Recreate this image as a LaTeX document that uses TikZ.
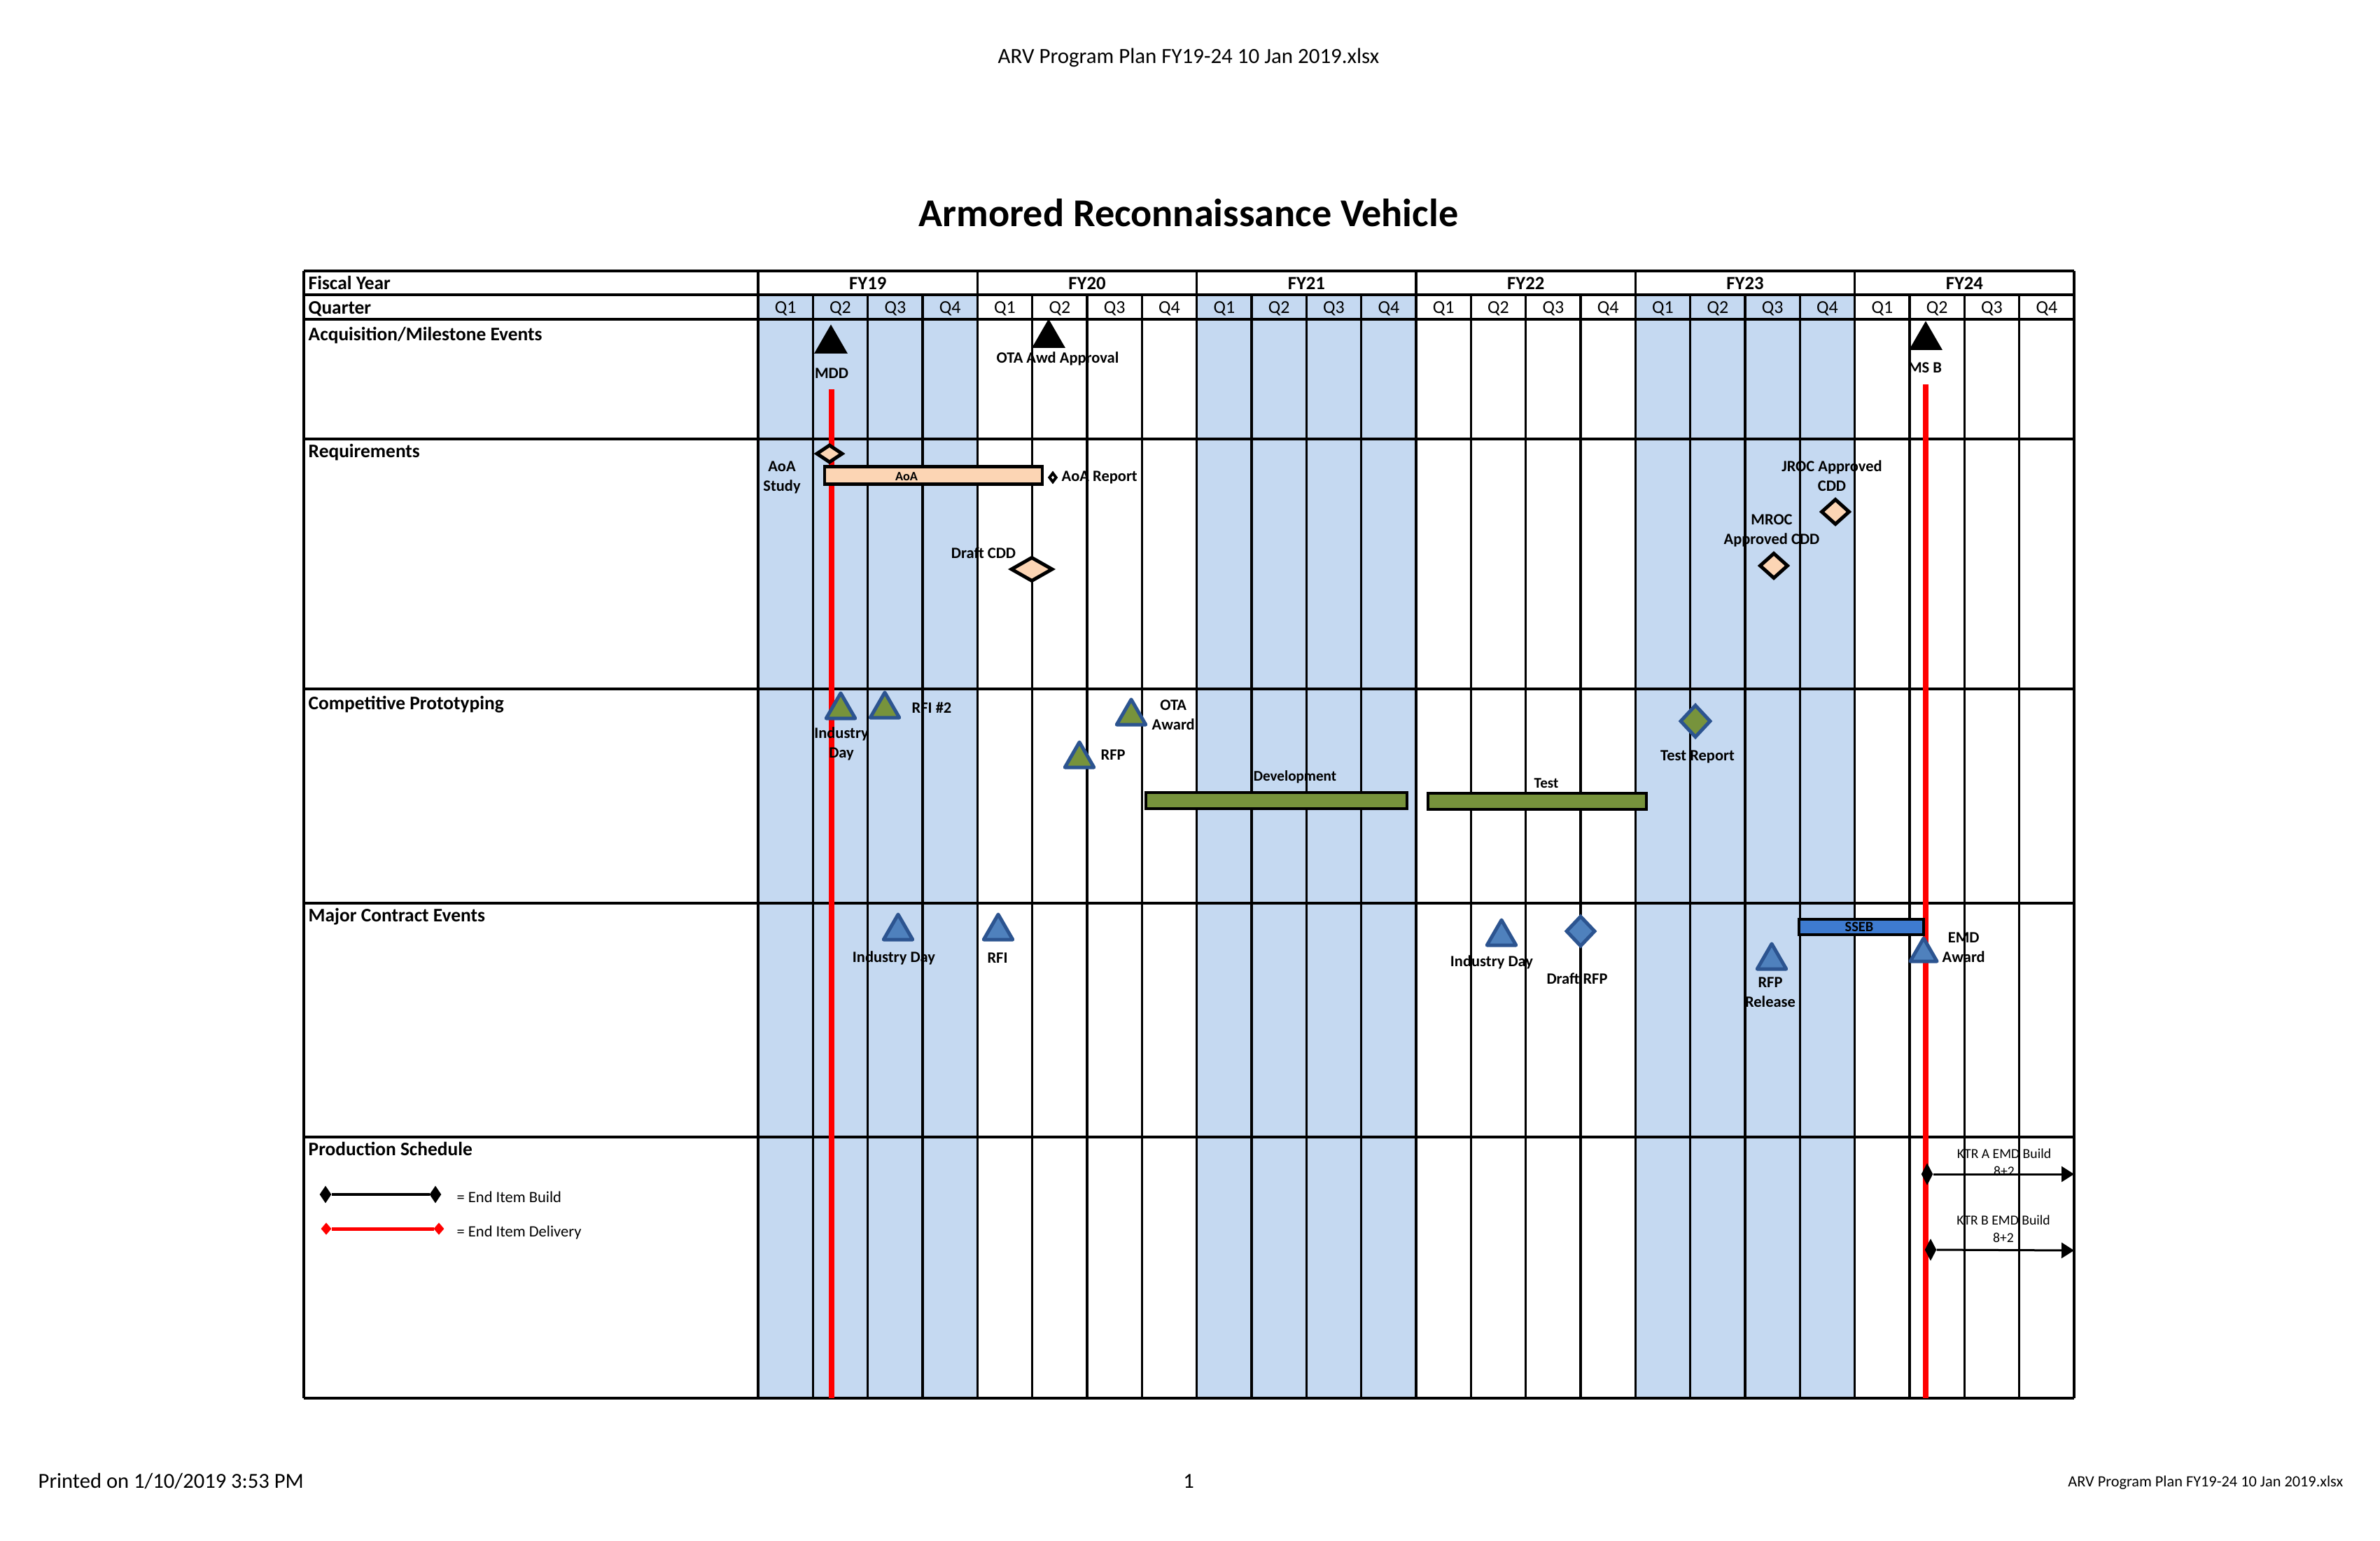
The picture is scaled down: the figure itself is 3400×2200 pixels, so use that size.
\documentclass[tikz,border=0pt]{standalone}
\usepackage{fontspec}
\setmainfont{Carlito}
\usetikzlibrary{shapes.geometric, arrows.meta}
\definecolor{qshade}{HTML}{C5D9F1}
\definecolor{peach}{HTML}{FCD5B4}
\definecolor{olive}{HTML}{77933C}
\definecolor{navy}{HTML}{2C5490}
\definecolor{steel}{HTML}{4F81BD}
\definecolor{ssebblue}{HTML}{3E7BD0}

\begin{document}
\begin{tikzpicture}[x=0.1mm, y=-0.1mm, >=Stealth,
  grid/.style={line width=0.35mm},
  rowhead/.style={anchor=base west, inner sep=0, font=\bfseries\fontsize{7.8}{9}\selectfont},
  yearhead/.style={anchor=base, inner sep=0, font=\bfseries\fontsize{7.6}{9}\selectfont},
  qhead/.style={anchor=base, inner sep=0, font=\fontsize{7.4}{8}\selectfont},
  note/.style={inner sep=0, align=center, font=\bfseries\fontsize{6.4}{8}\selectfont},
  tiny/.style={inner sep=0, align=center, font=\bfseries\fontsize{5.4}{7}\selectfont},
  milestone/.style={regular polygon, regular polygon sides=3, minimum size=5.5mm, inner sep=0, fill=#1},
  milestone/.default=black,
  gtri/.style={milestone=olive, minimum size=4.8mm, draw=navy, line width=0.5mm, line join=round},
  btri/.style={milestone=steel, minimum size=4.8mm, draw=navy, line width=0.5mm, line join=round},
  gem/.style={diamond, inner sep=0, draw=black, line width=0.5mm, fill=#1},
  gem/.default=peach,
  bar/.style={rectangle, inner sep=0, draw=black, line width=0.45mm, fill=#1},
  redline/.style={red, line width=0.8mm}]
  \useasboundingbox (0,0) rectangle (3400,2200);

  % page header, title, footer
  \node[font=\fontsize{8.8}{10}\selectfont] (fname) at (1698,82) {ARV Program Plan FY19-24 10 Jan 2019.xlsx};
  \node[font=\bfseries\fontsize{16}{19}\selectfont] (title) at (1698,304) {Armored Reconnaissance Vehicle};
  \node[anchor=west, inner sep=0, font=\fontsize{8.7}{10}\selectfont] (printed) at (54,2116) {Printed on 1/10/2019 3:53 PM};
  \node[font=\fontsize{8.7}{10}\selectfont] (pageno) at (1698,2116) {1};
  \node[anchor=east, inner sep=0, font=\fontsize{6.35}{7}\selectfont] (fname2) at (3348,2118) {ARV Program Plan FY19-24 10 Jan 2019.xlsx};

  % shaded fiscal years
  \foreach \k in {0,2,4}
    \fill[qshade] ({1083+\k*313.33},421) rectangle ++(313.33,1576);

  % grid
  \foreach \y in {387,421,456,627,984,1290,1624,1997}
    \draw[grid] (434,\y) -- (2963,\y);
  \draw[grid] (434,387) -- (434,1997);
  \foreach \k in {0,...,24}
    \draw[grid] ({1083+78.333*\k},421) -- ({1083+78.333*\k},1997);
  \foreach \k in {0,...,6}
    \draw[grid] ({1083+313.33*\k},387) -- ({1083+313.33*\k},421);

  % headings
  \node[rowhead] (hfy) at (440,413) {Fiscal Year};
  \node[rowhead] (hq) at (440,448) {Quarter};
  \node[rowhead] (hacq) at (440,486) {Acquisition/Milestone Events};
  \node[rowhead] (hreq) at (440,653) {Requirements};
  \node[rowhead] (hcp) at (440,1013) {Competitive Prototyping};
  \node[rowhead] (hmce) at (440,1316) {Major Contract Events};
  \node[rowhead] (hps) at (440,1650) {Production Schedule};
  \foreach \yr [count=\i from 0] in {19,...,24}
    \node[yearhead] (fy\yr) at ({1239.7+313.33*\i},413) {FY\yr};
  \foreach \k in {0,...,23} {
    \pgfmathtruncatemacro\q{mod(\k,4)+1}
    \node[qhead] (q\k) at ({1122.2+78.333*\k},447) {Q\q};
  }

  % red milestone lines
  \coordinate (mddtop) at (1188,556);
  \coordinate (mddbot) at (1188,1997);
  \coordinate (msbtop) at (2751,549);
  \coordinate (msbbot) at (2751,1997);
  \draw[redline] (mddtop) -- (mddbot);
  \draw[redline] (msbtop) -- (msbbot);

  % acquisition / milestone events
  \node[milestone] (mdd) at (1187,491) {};
  \node[note] (mddlbl) at (1188,533) {MDD};
  \node[milestone] (otaawd) at (1498,483) {};
  \node[note] (otaawdlbl) at (1511,512) {OTA Awd Approval};
  \node[milestone] (msb) at (2751,486) {};
  \node[note] (msblbl) at (2750,525) {MS B};

  % requirements
  \node[gem, minimum width=3.8mm, minimum height=2.6mm] (aoastart) at (1185,648) {};
  \node[bar=peach, minimum width=31.1mm, minimum height=2.5mm] (aoa) at (1333.5,679) {};
  \node[tiny, font=\bfseries\fontsize{5.2}{7}\selectfont] (aoalbl) at (1295,681) {AoA};
  \node[note] (aoastudy) at (1117,682) {AoA\\Study};
  \node[gem=white, line width=0.4mm, minimum width=1.1mm, minimum height=1.4mm] (aoarep) at (1504,682) {};
  \node[note, anchor=west] (aoareplbl) at (1516,682) {AoA Report};
  \node[gem, minimum width=6mm, minimum height=3.5mm] (draftcdd) at (1474,813) {};
  \node[note] (draftcddlbl) at (1405,790) {Draft CDD};
  \node[gem, minimum width=4.1mm, minimum height=3.7mm] (jroc) at (2622,731) {};
  \node[note] (jroclbl) at (2617,680) {JROC Approved\\CDD};
  \node[gem, minimum width=4.1mm, minimum height=3.7mm] (mroc) at (2534,808) {};
  \node[note] (mroclbl) at (2531,758) {MROC\\Approved CDD};

  % competitive prototyping
  \node[gtri] (cpday) at (1201,1014) {};
  \node[note] (cpdaylbl) at (1202,1062) {Industry\\Day};
  \node[gtri] (rfi2) at (1264,1013) {};
  \node[note, anchor=west] (rfi2lbl) at (1302,1011) {RFI \#2};
  \node[gtri] (cprfp) at (1542,1084) {};
  \node[note, anchor=west] (cprfplbl) at (1572,1078) {RFP};
  \node[gtri] (otaaward) at (1616,1023) {};
  \node[note, anchor=west] (otaawardlbl) at (1645,1021) {OTA\\Award};
  \node[bar=olive, minimum width=37.3mm, minimum height=2.3mm] (devbar) at (1823.5,1143.5) {};
  \node[note, font=\bfseries\fontsize{6}{7}\selectfont] (devlbl) at (1850,1110) {Development};
  \node[bar=olive, minimum width=31.2mm, minimum height=2.3mm] (testbar) at (2196,1144.5) {};
  \node[note, font=\bfseries\fontsize{6}{7}\selectfont] (testlbl) at (2209,1119) {Test};
  \node[gem=olive, draw=navy, minimum width=4.4mm, minimum height=4.7mm] (testrep) at (2422,1030) {};
  \node[note] (testreplbl) at (2425,1081) {Test Report};

  % major contract events
  \node[btri] (mceday) at (1283,1330) {};
  \node[note] (mcedaylbl) at (1277,1368) {Industry Day};
  \node[btri] (rfi) at (1426,1330) {};
  \node[note] (rfilbl) at (1425,1368) {RFI};
  \node[btri] (fyday) at (2145,1338) {};
  \node[note] (fydaylbl) at (2131,1374) {Industry Day};
  \node[gem=steel, draw=navy, minimum width=4.2mm, minimum height=4.4mm] (draftrfp) at (2258,1330) {};
  \node[note] (draftrfplbl) at (2253,1398) {Draft RFP};
  \node[bar=ssebblue, minimum width=17.8mm, minimum height=2.2mm] (ssebbar) at (2659,1324) {};
  \node[tiny, font=\bfseries\fontsize{5.8}{7}\selectfont] (sseblbl) at (2656,1324) {SSEB};
  \node[btri] (rfprel) at (2531,1372) {};
  \node[note] (rfprellbl) at (2529,1417) {RFP\\Release};
  \node[btri, minimum size=4.4mm] (emd) at (2748,1362) {};
  \node[note, anchor=west] (emdlbl) at (2774,1353) {EMD\\Award};

  % production schedule legend
  \node[gem=black, minimum width=1.5mm, minimum height=2.2mm, line width=0.2mm] (bld1) at (465,1706) {};
  \node[gem=black, minimum width=1.5mm, minimum height=2.2mm, line width=0.2mm] (bld2) at (622,1706) {};
  \draw[line width=0.4mm] (bld1) -- (bld2);
  \node[anchor=west, inner sep=0, font=\fontsize{6.4}{7}\selectfont] (bldlbl) at (652,1710) {= End Item Build};
  \node[gem=red, draw=red, minimum width=1.3mm, minimum height=1.5mm, line width=0.2mm] (dlv1) at (466,1755) {};
  \node[gem=red, draw=red, minimum width=1.3mm, minimum height=1.5mm, line width=0.2mm] (dlv2) at (627,1755) {};
  \draw[red, line width=0.5mm] (dlv1) -- (dlv2);
  \node[anchor=west, inner sep=0, font=\fontsize{6.4}{7}\selectfont] (dlvlbl) at (652,1760) {= End Item Delivery};

  % production builds
  \node[gem=black, minimum width=1.5mm, minimum height=2.8mm, line width=0.2mm] (ktra) at (2753,1677) {};
  \coordinate (ktraend) at (2963,1677);
  \draw[line width=0.3mm, -{Triangle[length=1.8mm, width=2.2mm]}] (ktra) -- (ktraend);
  \node[inner sep=0, align=center, font=\fontsize{5.6}{7}\selectfont] (ktralbl) at (2863,1660) {KTR A EMD Build\\8+2};
  \node[gem=black, minimum width=1.5mm, minimum height=2.8mm, line width=0.2mm] (ktrb) at (2758,1785) {};
  \coordinate (ktrbend) at (2963,1786);
  \draw[line width=0.3mm, -{Triangle[length=1.8mm, width=2.2mm]}] (ktrb) -- (ktrbend);
  \node[inner sep=0, align=center, font=\fontsize{5.6}{7}\selectfont] (ktrblbl) at (2862,1755) {KTR B EMD Build\\8+2};
\end{tikzpicture}
\end{document}
